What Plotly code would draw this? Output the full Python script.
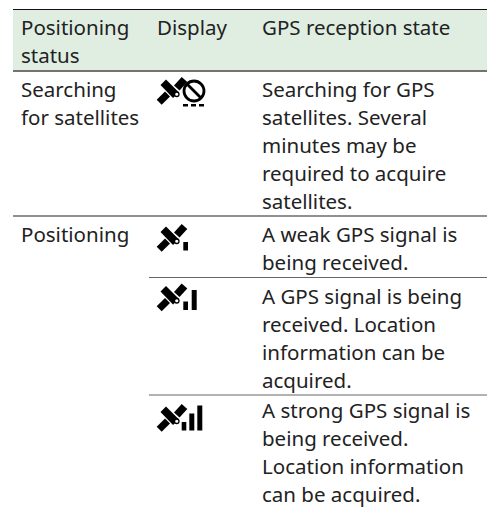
import plotly.graph_objects as go

# Table content
header_status = ["Positioning", "status"]
header_display = ["Display"]
header_state = ["GPS reception state"]
row_status = [["Searching", "for satellites"], ["Positioning"]]
row_state = [
    ["Searching for GPS", "satellites. Several", "minutes may be", "required to acquire", "satellites."],
    ["A weak GPS signal is", "being received."],
    ["A GPS signal is being", "received. Location", "information can be", "acquired."],
    ["A strong GPS signal is", "being received.", "Location information", "can be acquired."],
]
signal_bars = [0, 1, 2, 3]

W, H = 497, 507
PAGE_INSET = 8  # the page's own margin around the figure
COL = [21, 157, 262]
LINE = 28.0
FONT = dict(family="Noto Sans", size=20.5, color="#222222")

xs, ys, ts = [], [], []
def put(lines, x, y0):
    for i, t in enumerate(lines):
        xs.append(x); ys.append(y0 + 1.5 + i * LINE); ts.append(t)

put(header_status, COL[0], 28)
put(header_display, COL[1], 28)
put(header_state, COL[2], 28)
put(row_status[0], COL[0], 90)
put(row_status[1], COL[0], 235)
for lines, y0 in zip(row_state, [90, 235, 297, 411.3]):
    put(lines, COL[2], y0)

fig = go.Figure(go.Scatter(x=xs, y=ys, text=ts, mode="text", textposition="middle right",
                           textfont=FONT, hoverinfo="skip", cliponaxis=False, showlegend=False))

shapes = [
    dict(type="rect", x0=13, x1=487, y0=9, y1=71, fillcolor="#e0eee2", line_width=0, layer="below"),
    dict(type="line", x0=13, x1=487, y0=9.5, y1=9.5, line=dict(color="#111111", width=1)),
    dict(type="line", x0=13, x1=487, y0=71, y1=71, line=dict(color="#70756f", width=2)),
    dict(type="line", x0=13, x1=487, y0=216, y1=216, line=dict(color="#222222", width=1.2)),
    dict(type="line", x0=149, x1=487, y0=277.5, y1=277.5, line=dict(color="#666666", width=1.2)),
    dict(type="line", x0=149, x1=487, y0=395, y1=395, line=dict(color="#666666", width=1.2)),
]

def poly(pts, dy, color="#000000"):
    d = "M" + " L".join(f"{x},{y + dy}" for x, y in pts) + " Z"
    return dict(type="path", path=d, fillcolor=color, line_width=0)

def satellite(dy):
    out = [
        poly([(156.7, 246.7), (161.7, 251.7), (170, 243.5), (165, 238.5)], dy),
        poly([(160.5, 232), (166, 226.5), (179, 239.5), (173, 245)], dy),
        poly([(174, 232.5), (181.7, 224), (187.3, 229), (179.5, 237.5)], dy),
        dict(type="circle", x0=174.5, x1=179, y0=239 + dy, y1=243.5 + dy, fillcolor="#ffffff",
             line=dict(color="#000000", width=1.3)),
    ]
    return out

def bars(n, dy):
    spec = {1: [(183.3, 188, 8.5)], 2: [(183.3, 188, 8.5), (191.7, 196.7, 20)],
            3: [(181.7, 186.3, 8.5), (189.3, 194.3, 17), (197.3, 202.3, 25)]}[n]
    bottom = 250.5
    return [dict(type="rect", x0=a, x1=b, y0=bottom - h + dy, y1=bottom + dy, fillcolor="#000000", line_width=0)
            for a, b, h in spec]

icon_dy = [-147, 0, 59.5, 180]
for n, dy in zip(signal_bars, icon_dy):
    shapes += satellite(dy)
    if n:
        shapes += bars(n, dy)

# prohibited sign and dashes of the first icon
shapes.append(dict(type="circle", x0=184, x1=204, y0=81, y1=101, fillcolor="rgba(0,0,0,0)",
                   line=dict(color="#000000", width=2.8)))
shapes.append(dict(type="line", x0=187.5, x1=200.5, y0=84.5, y1=97.5, line=dict(color="#000000", width=2.8)))
for a in (183, 191, 199):
    shapes.append(dict(type="rect", x0=a, x1=a + 5, y0=104, y1=106.5, fillcolor="#000000", line_width=0))

fig.update_layout(
    width=W - PAGE_INSET, height=H - PAGE_INSET, autosize=False, margin=dict(l=0, r=0, t=0, b=0),
    paper_bgcolor="#ffffff", plot_bgcolor="#ffffff", shapes=shapes,
    xaxis=dict(range=[PAGE_INSET, W], visible=False, fixedrange=True),
    yaxis=dict(range=[H, PAGE_INSET], visible=False, fixedrange=True),
)
fig.write_html("out.html", config=dict(displayModeBar=False))
